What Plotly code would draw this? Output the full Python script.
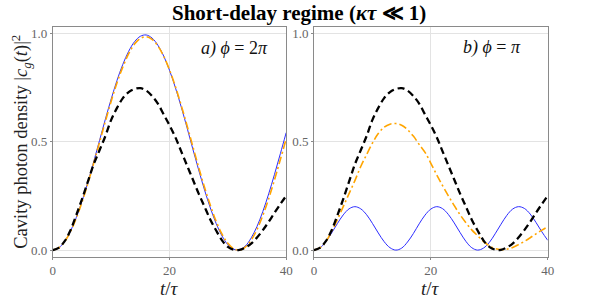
import plotly.graph_objects as go

t = list(range(0, 41))

# Panel a) phi = 2pi
blue_a = [0.000, 0.010, 0.039, 0.086, 0.149, 0.226, 0.313, 0.407, 0.505, 0.603,
          0.696, 0.782, 0.856, 0.916, 0.960, 0.985, 0.991, 0.977, 0.944, 0.894,
          0.828, 0.749, 0.660, 0.564, 0.465, 0.369, 0.277, 0.194, 0.122, 0.065,
          0.025, 0.004, 0.002, 0.019, 0.056, 0.109, 0.178, 0.259, 0.349, 0.444,
          0.541]
orange_a = [0.000, 0.010, 0.038, 0.084, 0.146, 0.221, 0.307, 0.400, 0.496, 0.593,
            0.686, 0.771, 0.844, 0.905, 0.949, 0.975, 0.983, 0.971, 0.941, 0.893,
            0.830, 0.754, 0.667, 0.574, 0.477, 0.381, 0.289, 0.206, 0.132, 0.073,
            0.031, 0.006, 0.000, 0.014, 0.046, 0.095, 0.160, 0.237, 0.324, 0.417,
            0.513]
# No-feedback reference (same in both panels)
black = [0.000, 0.010, 0.040, 0.090, 0.160, 0.235, 0.315, 0.395, 0.460, 0.525,
         0.600, 0.655, 0.700, 0.728, 0.742, 0.746, 0.735, 0.710, 0.675, 0.625,
         0.575, 0.520, 0.455, 0.390, 0.325, 0.260, 0.200, 0.140, 0.090, 0.045,
         0.015, 0.002, 0.001, 0.012, 0.030, 0.058, 0.092, 0.130, 0.172, 0.212,
         0.250]
# Panel b) phi = pi
blue_b = [0.000, 0.010, 0.038, 0.078, 0.122, 0.162, 0.190, 0.200, 0.190, 0.163,
          0.123, 0.079, 0.039, 0.011, 0.000, 0.009, 0.037, 0.076, 0.121, 0.161,
          0.189, 0.200, 0.191, 0.164, 0.125, 0.081, 0.040, 0.011, 0.000, 0.009,
          0.035, 0.075, 0.119, 0.160, 0.189, 0.200, 0.192, 0.166, 0.127, 0.084,
          0.045]
orange_b = [0.000, 0.010, 0.038, 0.085, 0.140, 0.200, 0.260, 0.320, 0.385, 0.440,
            0.493, 0.537, 0.566, 0.580, 0.583, 0.575, 0.555, 0.525, 0.487, 0.450,
            0.400, 0.347, 0.297, 0.250, 0.205, 0.163, 0.126, 0.093, 0.066, 0.040,
            0.020, 0.007, 0.002, 0.004, 0.012, 0.025, 0.040, 0.057, 0.075, 0.092,
            0.107]

x_ticks = [0, 20, 40]
y_ticks = [0.0, 0.5, 1.0]
y_tick_text = ["0.0", "0.5", "1.0"]

FONT = "Liberation Serif"
BLUE = "#2b2bff"
ORANGE = "#ffa500"

fig = go.Figure()

def add_panel(xa, ya, blue, orange):
    fig.add_trace(go.Scatter(x=t, y=blue, mode="lines", xaxis=xa, yaxis=ya,
                             line=dict(color=BLUE, width=1.0, shape="spline"),
                             showlegend=False, hoverinfo="skip"))
    fig.add_trace(go.Scatter(x=t, y=orange, mode="lines", xaxis=xa, yaxis=ya,
                             line=dict(color=ORANGE, width=1.6, shape="spline",
                                       dash="8px,3px,2px,3px"),
                             showlegend=False, hoverinfo="skip"))
    fig.add_trace(go.Scatter(x=t, y=black, mode="lines", xaxis=xa, yaxis=ya,
                             line=dict(color="black", width=2.3, shape="spline",
                                       dash="7px,4px"),
                             showlegend=False, hoverinfo="skip"))

add_panel("x", "y", blue_a, orange_a)
add_panel("x2", "y2", blue_b, orange_b)

axis_common = dict(showline=True, mirror=True, linecolor="#8a8a8a", linewidth=1,
                   showgrid=True, gridcolor="#e3e3e3", gridwidth=1,
                   zeroline=False, ticks="outside", ticklen=2, tickcolor="#8a8a8a",
                   tickfont=dict(family=FONT, size=13, color="#666666"))

fig.update_layout(
    width=598, height=302,
    margin=dict(l=0, r=0, t=0, b=0),
    paper_bgcolor="white", plot_bgcolor="white",
    xaxis=dict(domain=[0.0848, 0.4816], range=[0, 40], tickvals=x_ticks,
               anchor="y", **axis_common),
    yaxis=dict(domain=[0.148, 0.915], range=[-0.03, 1.03], tickvals=y_ticks,
               ticktext=y_tick_text, anchor="x", **axis_common),
    xaxis2=dict(domain=[0.5289, 0.9264], range=[0, 40], tickvals=x_ticks,
                anchor="y2", **axis_common),
    yaxis2=dict(domain=[0.148, 0.915], range=[-0.03, 1.03], tickvals=y_ticks,
                ticktext=y_tick_text, anchor="x2", **axis_common),
)

ann = []
ann.append(dict(text="<b>Short-delay regime (<i>κτ</i> ≪ 1)</b>", xref="paper", yref="paper",
                x=0.503, y=(302 - 12) / 302, showarrow=False,
                font=dict(family=FONT, size=21, color="black"),
                xanchor="center", yanchor="middle"))
ann.append(dict(text="Cavity photon density |<i>c<sub>g</sub></i>(<i>t</i>)|<sup>2</sup>",
                xref="paper", yref="paper", x=18 / 598, y=(302 - 142) / 302,
                textangle=-90, showarrow=False,
                font=dict(family=FONT, size=18.5, color="#222222"),
                xanchor="center", yanchor="middle"))
for xc in [(50.7 + 288) / 2 / 598, (316.3 + 554) / 2 / 598]:
    ann.append(dict(text="<i>t</i>/<i>τ</i>", xref="paper", yref="paper",
                    x=xc, y=(302 - 289) / 302, showarrow=False,
                    font=dict(family=FONT, size=19, color="#222222"),
                    xanchor="center", yanchor="middle"))
ann.append(dict(text="<i>a)</i> <i>ϕ</i> = 2<i>π</i>", xref="x", yref="y",
                x=31.1, y=0.93, showarrow=False,
                font=dict(family=FONT, size=18, color="#111111"),
                xanchor="center", yanchor="middle"))
ann.append(dict(text="<i>b)</i> <i>ϕ</i> = <i>π</i>", xref="x2", yref="y2",
                x=30.4, y=0.935, showarrow=False,
                font=dict(family=FONT, size=18, color="#111111"),
                xanchor="center", yanchor="middle"))
fig.update_layout(annotations=ann)

fig.write_html("out.html",
               config={"displayModeBar": False},
               post_script="document.body.style.margin='0';document.body.style.overflow='hidden';")
